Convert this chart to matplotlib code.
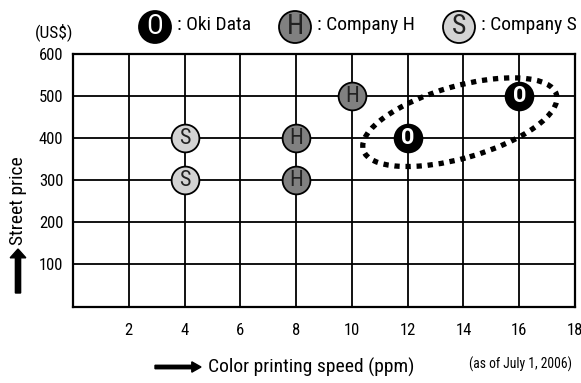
import matplotlib
matplotlib.use("Agg")
import matplotlib.pyplot as plt
from matplotlib.patches import Ellipse
from matplotlib.transforms import ScaledTranslation

plt.rcParams['font.family'] = ['Roboto Condensed', 'Roboto', 'DejaVu Sans']

# data
companies = ['Oki Data', 'Company H', 'Company S']
letters = ['O', 'H', 'S']
speeds = [[12, 16], [10, 8, 8], [4, 4]]
prices = [[400, 500], [500, 400, 300], [400, 300]]
fills = ['black', '#808080', '#d3d3d3']
text_colors = ['white', '#222222', '#222222']

x_ticks = [2, 4, 6, 8, 10, 12, 14, 16, 18]
y_ticks = [100, 200, 300, 400, 500, 600]

fig = plt.figure(figsize=(5.81, 3.83), dpi=100)
ax = fig.add_axes([0.1256, 0.1997, 0.8641, 0.6593])
ax.set_xlim(0, 18)
ax.set_ylim(0, 600)

for v in x_ticks[:-1]:
    ax.axvline(v, color='black', lw=1.3, zorder=1)
for v in y_ticks[:-1]:
    ax.axhline(v, color='black', lw=1.3, zorder=1)
for s in ax.spines.values():
    s.set_linewidth(1.6)

ax.set_xticks(x_ticks)
ax.set_yticks(y_ticks)
ax.tick_params(length=0, labelsize=12, pad=7)
ax.tick_params(axis='x', pad=12)
ax.xaxis.get_majorticklabels()[-1].set_clip_on(False)

for xs, ys, fc, tc, let in zip(speeds, prices, fills, text_colors, letters):
    ax.scatter(xs, ys, s=400, c=fc, edgecolors='black', linewidths=1.3, zorder=3)
    for x, y in zip(xs, ys):
        ax.text(x, y, let, color=tc, fontsize=16, ha='center', va='center',
                zorder=4, fontweight='bold' if let == 'O' else 'normal')

# dotted ellipse around Oki points
el = Ellipse((0, 0), 2.01, 0.72, angle=16, fill=False, lw=3.8,
             linestyle=(0, (1, 1.1)), color='black',
             transform=fig.dpi_scale_trans + ScaledTranslation(13.87, 438, ax.transData),
             zorder=2)
el.set_capstyle('butt')
ax.add_patch(el)

# legend across the top
leg_x = [155, 295, 459]
for lx, fc, tc, let, name in zip(leg_x, fills, text_colors, letters, companies):
    fig.patches.append(Ellipse((lx / 581, 1 - 27 / 383), 32 / 581, 32 / 383,
                               transform=fig.transFigure, facecolor=fc,
                               edgecolor='black', lw=1.3))
    fig.text(lx / 581, 1 - 27 / 383, let, color=tc, fontsize=20,
             ha='center', va='center')
    fig.text((lx + 22) / 581, 1 - 25 / 383, ': ' + name, fontsize=14,
             ha='left', va='center')

fig.text(54 / 581, 1 - 32 / 383, '(US$)', fontsize=12.5, ha='center', va='center')

# axis labels with arrows
fig.text(18 / 581, 1 - 201 / 383, 'Street price', fontsize=14, rotation=90,
         ha='center', va='center')
fig.patches.append(plt.Arrow(18 / 581, 1 - 293 / 383, 0, 44 / 383, width=0.045,
                             transform=fig.transFigure, color='black'))
fig.text(208 / 581, 1 - 367 / 383, 'Color printing speed (ppm)', fontsize=14,
         ha='left', va='center')
fig.patches.append(plt.Arrow(155 / 581, 1 - 367 / 383, 46 / 581, 0, width=0.045,
                             transform=fig.transFigure, color='black'))
fig.text(572 / 581, 1 - 364 / 383, '(as of July 1, 2006)', fontsize=9.8,
         ha='right', va='center')

fig.savefig('out.png', dpi=100)
